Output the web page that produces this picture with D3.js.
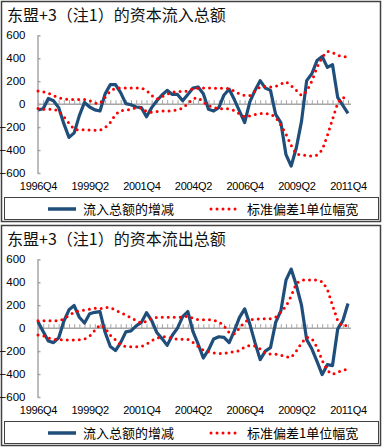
<!DOCTYPE html>
<html>
<head>
<meta charset="utf-8">
<script src="https://cdn.jsdelivr.net/npm/d3@7"></script>
<style>
  body { margin: 0; background: #fff; }
  svg { display: block; }
</style>
</head>
<body>
<script>
// quarters 1996Q4 .. 2011Q4
var quarters = [];
for (var yr = 1996; yr <= 2011; yr++) {
  for (var q = 1; q <= 4; q++) {
    if (yr === 1996 && q < 4) continue;
    quarters.push(yr + "Q" + q);
  }
}
var tickLabels = ["1996Q4", "1999Q2", "2001Q4", "2004Q2", "2006Q4", "2009Q2", "2011Q4"];
var yTicks = [-600, -400, -200, 0, 200, 400, 600];

// 流入 (inflow) panel
var inflowChange = [-50, -40, 50, 30, -30, -170, -290, -250, -100, 15,
  -25, -50, -60, 90, 170, 170, 100, 5, -5, -25,
  -30, -110, -30, 30, 80, 120, 85, 85, 30, 85,
  140, 150, 90, -45, -60, -30, 80, 130, 40, -60,
  -160, 20, 120, 205, 140, 120, -90, -160, -440, -540,
  -380, -150, 205, 265, 380, 415, 320, 345, 60, -10, -80];
var inflowUpper = [115, 108, 95, 75, 55, 45, 40, 40, 40, 40,
  30, 10, 5, 60, 115, 140, 140, 140, 140, 140,
  140, 120, 75, 45, 65, 85, 105, 110, 110, 115,
  135, 140, 140, 140, 140, 135, 140, 135, 115, 88,
  75, 75, 115, 150, 155, 150, 155, 175, 195, 160,
  120, 75, 110, 200, 320, 410, 460, 450, 425, 415, 410];
var inflowLower = [-38, -44, -44, -44, -60, -110, -165, -219, -228, -222,
  -225, -228, -228, -205, -160, -90, -55, -53, -45, -32,
  -35, -62, -72, -64, -58, -62, -58, -50, -35, 5,
  48, 55, 20, -15, -28, -44, -38, -42, -55, -85,
  -110, -102, -90, -82, -82, -88, -115, -180, -260, -360,
  -435, -442, -446, -453, -445, -400, -275, -132, 10, 60, 40];

// 流出 (outflow) panel
var outflowChange = [55, -30, -112, -126, -85, 60, 160, 197, 95, 45,
  125, 138, 144, -38, -160, -195, -126, -32, -24, 20,
  50, 135, 65, -38, -91, -150, -62, 0, 100, 145,
  -30, -140, -260, -190, -95, -75, -80, -126, -24, 94,
  168, 35, -126, -274, -200, -170, 50, 150, 418, 515,
  374, 200, -100, -180, -290, -405, -318, -326, -9, 65, 215];
var outflowUpper = [65, 65, 65, 65, 65, 80, 110, 140, 150, 158,
  165, 174, 168, 180, 178, 158, 135, 115, 90, 65,
  44, 60, 85, 94, 94, 94, 94, 94, 95, 105,
  85, 74, 74, 74, 70, 55, 20, -40, -50, 0,
  55, 74, 76, 82, 82, 82, 95, 140, 190, 280,
  390, 418, 420, 420, 420, 405, 340, 200, 65, 15, 30];
var outflowLower = [-59, -65, -85, -97, -100, -103, -103, -103, -100, -95,
  -70, -20, 30, 0, -62, -103, -145, -160, -162, -162,
  -160, -140, -110, -88, -74, -76, -88, -97, -97, -97,
  -125, -160, -191, -205, -215, -220, -220, -210, -206, -195,
  -165, -150, -155, -180, -220, -226, -226, -235, -250, -255,
  -200, -130, -80, -90, -165, -280, -370, -403, -385, -365, -360];

var legendNames = ["流入总额的增减", "标准偏差1单位幅宽"];
var blue = "#1f4e7a", red = "#ff0000", axisGray = "#a6a6a6";

var svg = d3.select("body").append("svg")
  .attr("width", 383)
  .attr("height", 448);

var x = d3.scalePoint().domain(quarters).range([38, 348]);
var y = d3.scaleLinear().domain([-600, 600]).range([173, 35.3]);

var line = d3.line()
  .x(function (d, i) { return x(quarters[i]); })
  .y(function (d) { return y(d); });

function drawPanel(offset, title, change, upper, lower) {
  var g = svg.append("g").attr("transform", "translate(0," + offset + ")");

  g.append("rect")
    .attr("x", 1.5).attr("y", 1.5)
    .attr("width", 379).attr("height", 220)
    .attr("fill", "#fff")
    .attr("stroke", "#404040")
    .attr("stroke-width", 1.5);

  g.append("text")
    .attr("x", 7).attr("y", 21)
    .attr("font-family", "Noto Sans CJK SC")
    .attr("font-size", 16)
    .attr("fill", "#111")
    .text(title);

  // y axis
  var yAxis = g.append("g")
    .attr("transform", "translate(37.5,0)")
    .call(d3.axisLeft(y).tickValues(yTicks).tickSize(-3).tickPadding(12).tickSizeOuter(0));
  yAxis.select(".domain").attr("stroke", axisGray).attr("stroke-width", 1.5);
  yAxis.selectAll(".tick line").attr("stroke", axisGray).attr("stroke-width", 1.5);
  yAxis.selectAll(".tick text")
    .attr("font-family", "Liberation Sans, Arial, sans-serif")
    .attr("font-size", 11.5)
    .attr("fill", "#000");

  // zero line with quarterly ticks
  var zAxis = g.append("g")
    .attr("transform", "translate(0," + y(0) + ")")
    .call(d3.axisTop(x).tickSize(4).tickSizeOuter(0).tickFormat(""));
  zAxis.select(".domain").attr("d", "M37.5,0H351").attr("stroke", axisGray).attr("stroke-width", 1.5);
  zAxis.selectAll(".tick line").attr("stroke", axisGray).attr("stroke-width", 1);

  // x labels
  var xAxis = g.append("g")
    .attr("transform", "translate(0,178)")
    .call(d3.axisBottom(x).tickValues(tickLabels).tickSize(0).tickPadding(4));
  xAxis.select(".domain").remove();
  xAxis.selectAll(".tick text")
    .attr("font-family", "Liberation Sans, Arial, sans-serif")
    .attr("font-size", 11)
    .attr("letter-spacing", "-0.3px")
    .attr("fill", "#000");

  g.append("path")
    .datum(change)
    .attr("d", line)
    .attr("fill", "none")
    .attr("stroke", blue)
    .attr("stroke-width", 3.2)
    .attr("stroke-linejoin", "round");

  [upper, lower].forEach(function (s) {
    g.append("path")
      .datum(s)
      .attr("d", line)
      .attr("fill", "none")
      .attr("stroke", red)
      .attr("stroke-width", 3)
      .attr("stroke-linecap", "round")
      .attr("stroke-dasharray", "0 6");
  });

  // legend
  g.append("rect")
    .attr("x", 4.5).attr("y", 197.5)
    .attr("width", 374).attr("height", 22)
    .attr("fill", "none")
    .attr("stroke", "#404040")
    .attr("stroke-width", 1);
  g.append("line")
    .attr("x1", 48).attr("x2", 76).attr("y1", 209).attr("y2", 209)
    .attr("stroke", blue).attr("stroke-width", 3.5);
  g.append("text")
    .attr("x", 83).attr("y", 213.5)
    .attr("font-family", "Noto Sans CJK SC")
    .attr("font-size", 13)
    .attr("fill", "#000")
    .text(legendNames[0]);
  g.append("line")
    .attr("x1", 211).attr("x2", 241).attr("y1", 209).attr("y2", 209)
    .attr("stroke", red).attr("stroke-width", 3)
    .attr("stroke-linecap", "round")
    .attr("stroke-dasharray", "0 6");
  g.append("text")
    .attr("x", 247).attr("y", 213.5)
    .attr("font-family", "Noto Sans CJK SC")
    .attr("font-size", 13)
    .attr("fill", "#000")
    .text(legendNames[1]);
}

drawPanel(0, "东盟+3（注1）的资本流入总额", inflowChange, inflowUpper, inflowLower);
drawPanel(224, "东盟+3（注1）的资本流出总额", outflowChange, outflowUpper, outflowLower);
</script>
</body>
</html>
